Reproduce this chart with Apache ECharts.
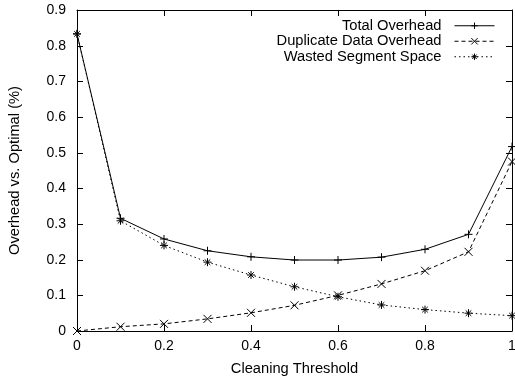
<!DOCTYPE html>
<html>
<head>
<meta charset="utf-8">
<script src="https://cdn.jsdelivr.net/npm/echarts@6/dist/echarts.min.js"></script>
<style>
  html, body { margin: 0; padding: 0; background: #fff; }
  #chart { width: 515px; height: 377px; }
</style>
</head>
<body>
<div id="chart"></div>
<script>
// cleaning threshold on x
var thresholds = [0, 0.1, 0.2, 0.3, 0.4, 0.5, 0.6, 0.7, 0.8, 0.9, 1.0];
var totalOverhead = [0.833, 0.316, 0.258, 0.225, 0.208, 0.199, 0.199, 0.207, 0.229, 0.271, 0.517];
var duplicateOverhead = [0.0, 0.012, 0.020, 0.034, 0.051, 0.072, 0.100, 0.132, 0.169, 0.222, 0.475];
var wastedSpace = [0.833, 0.309, 0.240, 0.193, 0.157, 0.124, 0.096, 0.073, 0.060, 0.050, 0.043];
var seriesNames = ['Total Overhead', 'Duplicate Data Overhead', 'Wasted Segment Space'];

// tick values (frame ticks on all four sides)
var xTicks = [0, 0.2, 0.4, 0.6, 0.8, 1];
var yTicks = [0, 0.1, 0.2, 0.3, 0.4, 0.5, 0.6, 0.7, 0.8, 0.9];

var FONT = '"Liberation Sans", Arial, sans-serif';
var TICK_LEN = 6;

var plusSym = 'path://M0,5L10,5M5,0L5,10';
var crossSym = 'path://M0,0L10,10M0,10L10,0';
var starSym = 'path://M0,5L10,5M5,0L5,10M1.5,1.5L8.5,8.5M1.5,8.5L8.5,1.5';

function pairs(ys) {
	var out = [];
	for (var i = 0; i < thresholds.length; i++) {
		out.push([thresholds[i], ys[i]]);
	}
	return out;
}

function makeSeries(name, ys, sym, dash) {
	return {
		name: name,
		type: 'line',
		data: pairs(ys),
		symbol: sym,
		symbolSize: 8,
		itemStyle: { color: '#000', borderColor: '#000', borderWidth: 1 },
		lineStyle: { color: '#000', width: 1, type: dash }
	};
}

function frameAxis(extra) {
	var o = {
		type: 'value',
		axisLine: { show: true, onZero: false, lineStyle: { color: '#000', width: 1 } },
		axisTick: { show: false },
		splitLine: { show: false }
	};
	for (var k in extra) o[k] = extra[k];
	return o;
}

var chart = echarts.init(document.getElementById('chart'));

chart.setOption({
	animation: false,
	grid: { left: 77, right: 3, top: 10, bottom: 46, outerBoundsMode: 'none' },
	legend: {
		data: seriesNames,
		orient: 'vertical',
		right: 20,
		top: 18,
		padding: 0,
		align: 'right',
		itemWidth: 40,
		itemHeight: 8,
		itemGap: 0,
		lineStyle: { width: 1 },
		itemStyle: { borderWidth: 1 },
		textStyle: { fontFamily: FONT, fontSize: 14.7, lineHeight: 15.5, color: '#000', padding: [0, 8, 0, 0] }
	},
	xAxis: [frameAxis({
		min: 0, max: 1, interval: 0.2,
		name: 'Cleaning Threshold',
		nameLocation: 'middle',
		nameGap: 30,
		nameTextStyle: { fontFamily: FONT, fontSize: 14.7, color: '#000' },
		axisLabel: {
			fontFamily: FONT, fontSize: 14, color: '#000', margin: 8,
			formatter: function (v) { return String(Math.round(v * 10) / 10); }
		}
	}), frameAxis({
		position: 'top', min: 0, max: 1, interval: 0.2,
		axisLabel: { show: false }
	})],
	yAxis: [frameAxis({
		min: 0, max: 0.9, interval: 0.1,
		name: 'Overhead vs. Optimal (%)',
		nameLocation: 'middle',
		nameGap: 55,
		nameTextStyle: { fontFamily: FONT, fontSize: 14.7, color: '#000' },
		axisLabel: {
			fontFamily: FONT, fontSize: 14, color: '#000', margin: 11,
			formatter: function (v) { return String(Math.round(v * 10) / 10); }
		}
	}), frameAxis({
		position: 'right', min: 0, max: 0.9, interval: 0.1,
		axisLabel: { show: false }
	})],
	series: [
		makeSeries(seriesNames[0], totalOverhead, plusSym, 'solid'),
		makeSeries(seriesNames[1], duplicateOverhead, crossSym, [4, 3]),
		makeSeries(seriesNames[2], wastedSpace, starSym, [1.5, 3])
	]
});

// inward ticks on all four sides, placed through the axes' own scales
function crisp(v) { return Math.round(v) + 0.5; }
var yBottom = chart.convertToPixel({ yAxisIndex: 0 }, 0);
var yTop = chart.convertToPixel({ yAxisIndex: 0 }, 0.9);
var xLeft = chart.convertToPixel({ xAxisIndex: 0 }, 0);
var xRight = chart.convertToPixel({ xAxisIndex: 0 }, 1);
var tickEls = [];
function tick(x1, y1, x2, y2) {
	tickEls.push({
		type: 'line', silent: true, z: 10,
		shape: { x1: x1, y1: y1, x2: x2, y2: y2 },
		style: { stroke: '#000', lineWidth: 1 }
	});
}
xTicks.forEach(function (v) {
	var px = crisp(chart.convertToPixel({ xAxisIndex: 0 }, v));
	tick(px, yBottom, px, yBottom - TICK_LEN);
	tick(px, yTop, px, yTop + TICK_LEN);
});
yTicks.forEach(function (v) {
	var py = crisp(chart.convertToPixel({ yAxisIndex: 0 }, v));
	tick(xLeft, py, xLeft + TICK_LEN, py);
	tick(xRight, py, xRight - TICK_LEN, py);
});
chart.setOption({ graphic: tickEls });
</script>
</body>
</html>
